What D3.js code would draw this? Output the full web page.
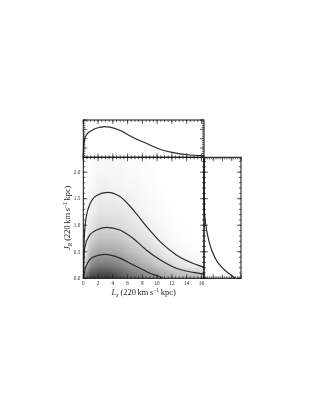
<!DOCTYPE html>
<html><head><meta charset="utf-8">
<script src="https://cdn.jsdelivr.net/npm/d3@7"></script>
<style>
html,body{margin:0;padding:0;background:#fff;}
svg{display:block;}
text{font-family:"Liberation Serif","DejaVu Serif",serif;fill:#222;}
.txt{opacity:0.999;will-change:opacity;}
</style></head>
<body>
<script>
// ---- data ----
const LzGrid = [0,1,2,3,4,5,6,7,8,9,10,11,12,13,14,15,16];
const JRGrid = [0,0.25,0.5,0.75,1.0,1.25,1.5,1.75,2.0,2.25];
// darkness (%) of the density shading; one row per Lz grid value, columns follow JRGrid
const shade = [
 [55,10,2,0,0,0,0,0,0,0],
 [75,46,28,17,10,6,4,2,1,1],
 [78,52,35,23,16,10,7,5,3,2],
 [80,53,35,23,16,10,7,5,3,2],
 [76,51,34,23,15,10,7,4,3,2],
 [70,47,32,21,14,10,6,4,3,2],
 [63,42,27,18,12,8,5,3,2,1],
 [58,37,24,15,10,6,4,3,2,1],
 [53,32,20,12,7,4,3,2,1,1],
 [48,28,16,9,5,3,2,1,1,0],
 [43,23,12,6,3,2,1,0,0,0],
 [38,18,8,4,2,1,0,0,0,0],
 [35,14,5,2,1,0,0,0,0,0],
 [33,11,3,1,0,0,0,0,0,0],
 [32,8,2,0,0,0,0,0,0,0],
 [31,6,1,0,0,0,0,0,0,0],
 [30,4,1,0,0,0,0,0,0,0]
];
const contourOuter = [[0,0],[0.05,0.4],[0.23,0.97],[0.68,1.32],[1.8,1.56],[3.3,1.62],[4.96,1.54],[6.76,1.29],[8.6,0.97],[10.4,0.69],[12.6,0.44],[14.9,0.28],[16.35,0.21]];
const contourMiddle = [[0,0],[0.05,0.25],[0.23,0.6],[0.9,0.82],[1.8,0.91],[3.16,0.96],[4.96,0.91],[6.76,0.75],[8.57,0.53],[10.4,0.35],[12.6,0.19],[14.9,0.11],[16.35,0.08]];
const contourInner = [[0.05,0],[0.15,0.12],[0.45,0.25],[1.35,0.4],[2.9,0.45],[4.96,0.38],[6.76,0.25],[7.7,0.19],[8.57,0.125],[9.7,0.06],[10.4,0.03],[10.8,0]];
const margLz = [[0,0],[0.05,0.3],[0.23,0.52],[0.5,0.62],[0.9,0.69],[1.5,0.76],[2.2,0.8],[2.93,0.82],[3.6,0.81],[4.5,0.76],[5.3,0.69],[6.3,0.58],[7.4,0.47],[8.57,0.37],[9.7,0.27],[10.8,0.19],[12,0.13],[13.1,0.09],[14.5,0.062],[16.35,0.045]];
const margJR = [[0,0.84],[0.03,0.79],[0.125,0.61],[0.28,0.39],[0.53,0.21],[0.91,0.07],[1.23,0.015],[1.6,0.003],[2.28,0]];
const xTicks = [0,2,4,6,8,10,12,14,16];
const yTicks = [0.0,0.5,1.0,1.5,2.0];

// ---- layout ----
const W=316,H=409;
const L=83.3,R=204,T=157.3,B=278.3, TT=120, RR=241;
const svg=d3.select("body").append("svg").attr("width",W).attr("height",H);
const x=d3.scaleLinear().domain([0,16.35]).range([L,R]);
const y=d3.scaleLinear().domain([0,2.28]).range([B,T]);
const yTop=d3.scaleLinear().domain([0,1]).range([T,TT]);
const xRight=d3.scaleLinear().domain([0,1]).range([R,RR]);

// ---- density shading ----
const cv=document.createElement("canvas");
cv.width=LzGrid.length; cv.height=JRGrid.length;
const ctx=cv.getContext("2d");
const img=ctx.createImageData(cv.width,cv.height);
LzGrid.forEach((lz,i)=>{
  JRGrid.forEach((jr,j)=>{
    const row=JRGrid.length-1-j;
    const v=Math.round(255*(1-shade[i][j]/100));
    const k=(row*cv.width+i)*4;
    img.data[k]=v;img.data[k+1]=v;img.data[k+2]=v;img.data[k+3]=255;
  });
});
ctx.putImageData(img,0,0);
const defs=svg.append("defs");
defs.append("clipPath").attr("id","clipMain").append("rect")
  .attr("x",L).attr("y",T).attr("width",R-L).attr("height",B-T);
const dL=LzGrid[1]-LzGrid[0], dJ=JRGrid[1]-JRGrid[0];
svg.append("image").attr("href",cv.toDataURL())
  .attr("x",x(LzGrid[0]-dL/2)).attr("y",y(JRGrid[JRGrid.length-1]+dJ/2))
  .attr("width",x(LzGrid[LzGrid.length-1]+dL/2)-x(LzGrid[0]-dL/2))
  .attr("height",y(JRGrid[0]-dJ/2)-y(JRGrid[JRGrid.length-1]+dJ/2))
  .attr("preserveAspectRatio","none")
  .attr("clip-path","url(#clipMain)");

// ---- contours ----
const cline=d3.line().x(d=>x(d[0])).y(d=>y(d[1])).curve(d3.curveMonotoneX);
[contourOuter,contourMiddle,contourInner].forEach(c=>{
  svg.append("path").attr("d",cline(c)).attr("fill","none").attr("stroke","#2a2a2a")
    .attr("stroke-width",1.2).attr("clip-path","url(#clipMain)");
});

// ---- marginals ----
const topLine=d3.line().x(d=>x(d[0])).y(d=>yTop(d[1])).curve(d3.curveMonotoneX);
svg.append("path").attr("d",topLine(margLz)).attr("fill","none").attr("stroke","#2a2a2a").attr("stroke-width",1.2);
const rightLine=d3.line().x(d=>xRight(d[1])).y(d=>y(d[0])).curve(d3.curveMonotoneY);
svg.append("path").attr("d",rightLine(margJR)).attr("fill","none").attr("stroke","#2a2a2a").attr("stroke-width",1.2);

// ---- frames & ticks ----
const tk=svg.append("g").attr("stroke","#222").attr("stroke-width",0.7);
function hTicks(scale,vals,yy,len){vals.forEach(v=>{const p=scale(v);tk.append("line").attr("x1",p).attr("x2",p).attr("y1",yy).attr("y2",yy+len);});}
function vTicks(scale,vals,xx,len){vals.forEach(v=>{const p=scale(v);tk.append("line").attr("y1",p).attr("y2",p).attr("x1",xx).attr("x2",xx+len);});}
const xMajor=d3.range(0,16.01,2), xMinor=d3.range(0,16.36,0.5);
const yMajor=d3.range(0,2.01,0.5), yMinor=d3.range(0,2.281,0.1);
const mMajor=d3.range(0,1.01,0.25), mMinor=d3.range(0,1.001,0.05);
// main
hTicks(x,xMajor,B,-4);hTicks(x,xMinor,B,-2);
hTicks(x,xMajor,T,4);hTicks(x,xMinor,T,2);
vTicks(y,yMajor,L,4);vTicks(y,yMinor,L,2);
vTicks(y,yMajor,R,-4);vTicks(y,yMinor,R,-2);
// top panel
hTicks(x,xMajor,TT,4);hTicks(x,xMinor,TT,2);
hTicks(x,xMajor,T,-4);hTicks(x,xMinor,T,-2);
vTicks(yTop,mMajor,L,4);vTicks(yTop,mMinor,L,2);
vTicks(yTop,mMajor,R,-4);vTicks(yTop,mMinor,R,-2);
// right panel
vTicks(y,yMajor,RR,-4);vTicks(y,yMinor,RR,-2);
vTicks(y,yMajor,R,4);vTicks(y,yMinor,R,2);
hTicks(xRight,mMajor,T,4);hTicks(xRight,mMinor,T,2);
hTicks(xRight,mMajor,B,-4);hTicks(xRight,mMinor,B,-2);

const fr=svg.append("g").attr("fill","none").attr("stroke","#111").attr("stroke-width",1);
fr.append("rect").attr("x",L).attr("y",T).attr("width",R-L).attr("height",B-T);
fr.append("rect").attr("x",L).attr("y",TT).attr("width",R-L).attr("height",T-TT);
fr.append("rect").attr("x",R).attr("y",T).attr("width",RR-R).attr("height",B-T);

// ---- tick labels ----
const tg=svg.append("g").attr("class","txt");
xTicks.forEach(v=>tg.append("text").attr("x",x(v)).attr("y",B+6.5).attr("text-anchor","middle")
  .attr("font-size",5.2).text(v));
yTicks.forEach(v=>tg.append("text").attr("x",L-3).attr("y",y(v)+1.8).attr("text-anchor","end")
  .attr("font-size",5.2).text(v.toFixed(1)));

// ---- axis titles ----
const xt=tg.append("text").attr("x",(L+R)/2).attr("y",B+17).attr("text-anchor","middle").attr("font-size",8.4);
xt.append("tspan").attr("font-style","italic").text("L");
xt.append("tspan").attr("font-style","italic").attr("font-size",5.6).attr("dy",1.5).text("z");
xt.append("tspan").attr("dy",-1.5).text(" (220\u2009km\u2009s");
xt.append("tspan").attr("font-size",5.6).attr("dy",-3).text("\u22121");
xt.append("tspan").attr("dy",3).text("\u2009kpc)");

const yt=tg.append("text").attr("transform",`translate(${L-13},${(T+B)/2}) rotate(-90)`)
  .attr("text-anchor","middle").attr("font-size",8.4);
yt.append("tspan").attr("font-style","italic").text("J");
yt.append("tspan").attr("font-style","italic").attr("font-size",5.6).attr("dy",1.5).text("R");
yt.append("tspan").attr("dy",-1.5).text(" (220\u2009km\u2009s");
yt.append("tspan").attr("font-size",5.6).attr("dy",-3).text("\u22121");
yt.append("tspan").attr("dy",3).text("\u2009kpc)");
</script>
</body></html>
